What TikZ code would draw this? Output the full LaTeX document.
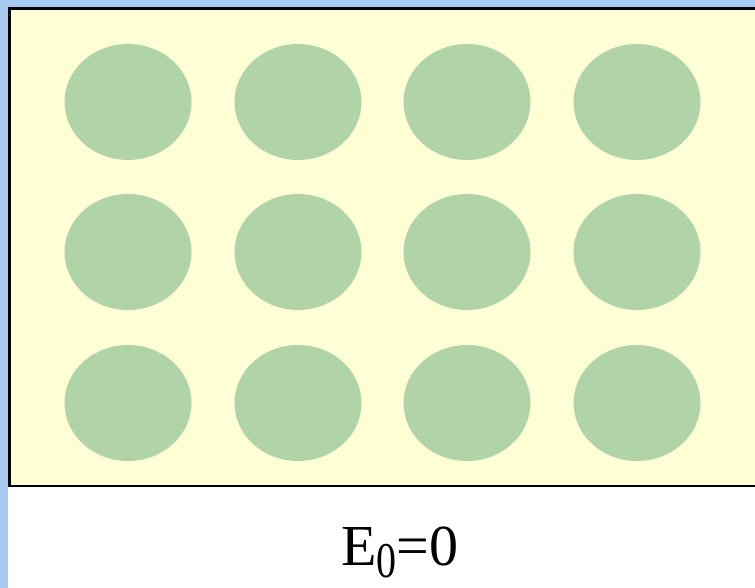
\documentclass[tikz,border=0pt]{standalone}
\usepackage{fontspec}
\setmainfont{Liberation Serif}
\definecolor{strip}{RGB}{166,202,242}
\definecolor{paper}{RGB}{255,255,214}
\definecolor{disc}{RGB}{176,212,168}
\tikzset{
  dot/.style={fill=disc, draw=none},
  panel/.style={fill=paper, draw=black, line width=2.5pt},
}
\begin{document}
\begin{tikzpicture}[x=1pt,y=-1pt]
\useasboundingbox (0,0) rectangle (755,588);
\fill[white] (0,0) rectangle (755,588);
\fill[strip] (0,0) rectangle (755,8);
\fill[strip] (0,0) rectangle (8,588);
\draw[panel] (9.5,8.5) -- (9.5,486) -- (760,486) -- (760,8.5) -- cycle;
\fill[paper] (11,10) rectangle (755,484.5);
\foreach \cx [count=\i] in {128,298,467,637}{
  \foreach \cy [count=\j] in {102,252,403}{
    \fill[dot] (\cx,\cy) ellipse [x radius=63.5, y radius=58];
  }
}
\node[anchor=base, inner sep=0pt] (label) at (400,565)
  {\fontsize{58}{64}\selectfont E\raisebox{-12pt}{\scalebox{0.8}[1]{\fontsize{50}{54}\selectfont 0}}=0};
\end{tikzpicture}
\end{document}
